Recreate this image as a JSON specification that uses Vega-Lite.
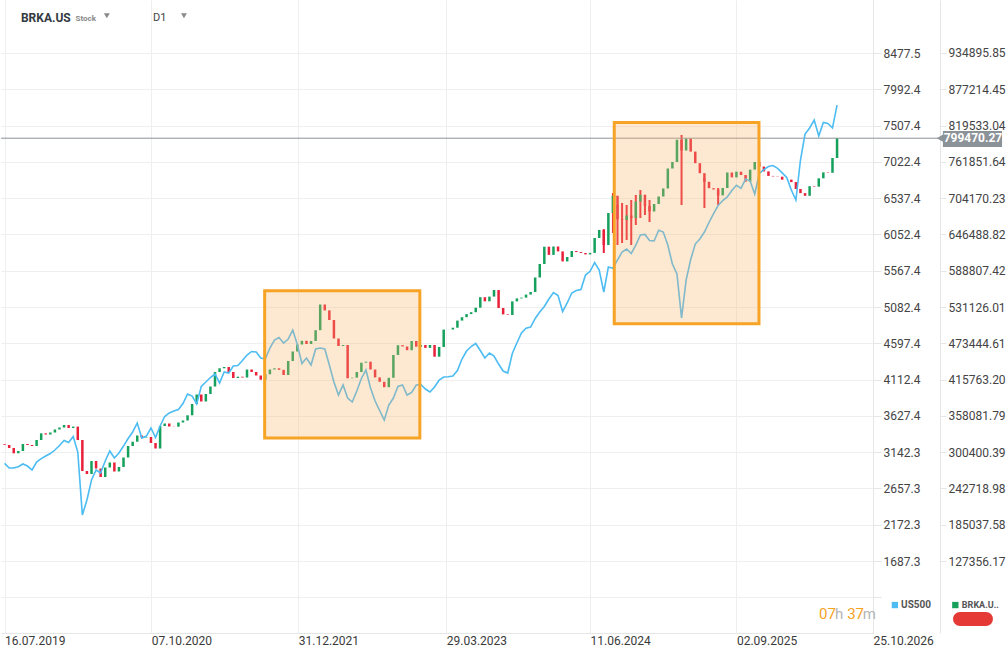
{
 "$schema": "https://vega.github.io/schema/vega-lite/v6.json",
 "width": 872,
 "height": 633,
 "padding": 0,
 "autosize": {"type": "pad"},
 "background": "white",
 "config": {"view": {"stroke": null}, "font": "Roboto"},
 "datasets": {
  "spx": [
{"d":"2019-07-16","s":2993},{"d":"2019-07-30","s":2930},{"d":"2019-08-13","s":2930},{"d":"2019-08-27","s":2948},{"d":"2019-09-10","s":2984},{"d":"2019-09-24","s":2957},{"d":"2019-10-08","s":2904},{"d":"2019-10-22","s":3011},{"d":"2019-11-05","s":3057},{"d":"2019-11-19","s":3091},{"d":"2019-12-03","s":3124},{"d":"2019-12-17","s":3171},{"d":"2019-12-31","s":3231},{"d":"2020-01-14","s":3298},{"d":"2020-01-28","s":3271},{"d":"2020-02-11","s":3351},{"d":"2020-02-25","s":3144},{"d":"2020-03-10","s":2302},{"d":"2020-03-24","s":2503},{"d":"2020-04-07","s":2770},{"d":"2020-04-21","s":2904},{"d":"2020-05-05","s":2864},{"d":"2020-05-19","s":3024},{"d":"2020-06-02","s":3158},{"d":"2020-06-16","s":3064},{"d":"2020-06-30","s":3131},{"d":"2020-07-14","s":3224},{"d":"2020-07-28","s":3325},{"d":"2020-08-11","s":3412},{"d":"2020-08-25","s":3532},{"d":"2020-09-08","s":3331},{"d":"2020-09-22","s":3358},{"d":"2020-10-06","s":3465},{"d":"2020-10-20","s":3338},{"d":"2020-11-03","s":3492},{"d":"2020-11-17","s":3619},{"d":"2020-12-01","s":3666},{"d":"2020-12-15","s":3692},{"d":"2020-12-29","s":3712},{"d":"2021-01-12","s":3793},{"d":"2021-01-26","s":3920},{"d":"2021-02-09","s":3893},{"d":"2021-02-23","s":3786},{"d":"2021-03-09","s":4020},{"d":"2021-03-23","s":4080},{"d":"2021-04-06","s":4140},{"d":"2021-04-20","s":4187},{"d":"2021-05-04","s":4067},{"d":"2021-05-18","s":4214},{"d":"2021-06-01","s":4200},{"d":"2021-06-15","s":4294},{"d":"2021-06-29","s":4300},{"d":"2021-07-13","s":4367},{"d":"2021-07-27","s":4441},{"d":"2021-08-10","s":4488},{"d":"2021-08-24","s":4481},{"d":"2021-09-07","s":4401},{"d":"2021-09-21","s":4387},{"d":"2021-10-05","s":4534},{"d":"2021-10-19","s":4641},{"d":"2021-11-02","s":4675},{"d":"2021-11-16","s":4601},{"d":"2021-11-30","s":4655},{"d":"2021-12-14","s":4775},{"d":"2021-12-28","s":4581},{"d":"2022-01-11","s":4327},{"d":"2022-01-25","s":4401},{"d":"2022-02-08","s":4307},{"d":"2022-02-22","s":4521},{"d":"2022-03-08","s":4534},{"d":"2022-03-22","s":4521},{"d":"2022-04-05","s":4307},{"d":"2022-04-19","s":4080},{"d":"2022-05-03","s":3906},{"d":"2022-05-17","s":4040},{"d":"2022-05-31","s":3866},{"d":"2022-06-14","s":3813},{"d":"2022-06-28","s":3960},{"d":"2022-07-12","s":4127},{"d":"2022-07-26","s":4240},{"d":"2022-08-09","s":4000},{"d":"2022-08-23","s":3826},{"d":"2022-09-06","s":3699},{"d":"2022-09-20","s":3572},{"d":"2022-10-04","s":3772},{"d":"2022-10-18","s":3866},{"d":"2022-11-01","s":4020},{"d":"2022-11-15","s":4040},{"d":"2022-11-29","s":3906},{"d":"2022-12-13","s":3940},{"d":"2022-12-27","s":4040},{"d":"2023-01-10","s":4047},{"d":"2023-01-24","s":3986},{"d":"2023-02-07","s":3946},{"d":"2023-02-21","s":4013},{"d":"2023-03-07","s":4107},{"d":"2023-03-21","s":4147},{"d":"2023-04-04","s":4151},{"d":"2023-04-18","s":4160},{"d":"2023-05-02","s":4234},{"d":"2023-05-16","s":4387},{"d":"2023-05-30","s":4494},{"d":"2023-06-13","s":4554},{"d":"2023-06-27","s":4595},{"d":"2023-07-11","s":4501},{"d":"2023-07-25","s":4401},{"d":"2023-08-08","s":4468},{"d":"2023-08-22","s":4427},{"d":"2023-09-05","s":4320},{"d":"2023-09-19","s":4227},{"d":"2023-10-03","s":4200},{"d":"2023-10-17","s":4461},{"d":"2023-10-31","s":4601},{"d":"2023-11-14","s":4735},{"d":"2023-11-28","s":4798},{"d":"2023-12-12","s":4815},{"d":"2023-12-26","s":4929},{"d":"2024-01-09","s":5016},{"d":"2024-01-23","s":5089},{"d":"2024-02-06","s":5189},{"d":"2024-02-20","s":5276},{"d":"2024-03-05","s":5236},{"d":"2024-03-19","s":5022},{"d":"2024-04-02","s":5136},{"d":"2024-04-16","s":5270},{"d":"2024-04-30","s":5303},{"d":"2024-05-14","s":5316},{"d":"2024-05-28","s":5510},{"d":"2024-06-11","s":5560},{"d":"2024-06-25","s":5677},{"d":"2024-07-09","s":5577},{"d":"2024-07-23","s":5283},{"d":"2024-08-06","s":5617},{"d":"2024-08-20","s":5600},{"d":"2024-09-03","s":5711},{"d":"2024-09-17","s":5818},{"d":"2024-10-01","s":5858},{"d":"2024-10-15","s":5798},{"d":"2024-10-29","s":5911},{"d":"2024-11-12","s":6045},{"d":"2024-11-26","s":6052},{"d":"2024-12-10","s":5971},{"d":"2024-12-24","s":5965},{"d":"2025-01-07","s":6108},{"d":"2025-01-21","s":6085},{"d":"2025-02-04","s":5911},{"d":"2025-02-18","s":5657},{"d":"2025-03-04","s":5524},{"d":"2025-03-18","s":4935},{"d":"2025-04-01","s":5443},{"d":"2025-04-15","s":5717},{"d":"2025-04-29","s":5924},{"d":"2025-05-13","s":5991},{"d":"2025-05-27","s":6085},{"d":"2025-06-10","s":6212},{"d":"2025-06-24","s":6332},{"d":"2025-07-08","s":6439},{"d":"2025-07-22","s":6506},{"d":"2025-08-05","s":6553},{"d":"2025-08-19","s":6640},{"d":"2025-09-02","s":6709},{"d":"2025-09-16","s":6669},{"d":"2025-09-30","s":6793},{"d":"2025-10-14","s":6767},{"d":"2025-10-28","s":6593},{"d":"2025-11-11","s":6867},{"d":"2025-11-25","s":6920},{"d":"2025-12-09","s":6960},{"d":"2025-12-23","s":6974},{"d":"2026-01-06","s":6936},{"d":"2026-01-20","s":6876},{"d":"2026-02-03","s":6813},{"d":"2026-02-17","s":6646},{"d":"2026-03-03","s":6513},{"d":"2026-03-17","s":7047},{"d":"2026-03-31","s":7395},{"d":"2026-04-14","s":7475},{"d":"2026-04-28","s":7582},{"d":"2026-05-12","s":7368},{"d":"2026-05-26","s":7549},{"d":"2026-06-09","s":7535},{"d":"2026-06-23","s":7475},{"d":"2026-07-07","s":7782}
  ],
  "brk": [
{"d":"2019-07-16","o":313000,"c":311761},{"d":"2019-07-30","o":311761,"c":306992},{"d":"2019-08-13","o":306992,"c":298567},{"d":"2019-08-27","o":298567,"c":302223},{"d":"2019-09-10","o":302223,"c":313351},{"d":"2019-09-24","o":313351,"c":311761},{"d":"2019-10-08","o":311761,"c":310171},{"d":"2019-10-22","o":310171,"c":319709},{"d":"2019-11-05","o":319709,"c":330360},{"d":"2019-11-19","o":330360,"c":328452},{"d":"2019-12-03","o":328452,"c":331631},{"d":"2019-12-17","o":331631,"c":336400},{"d":"2019-12-31","o":336400,"c":339579},{"d":"2020-01-14","o":339579,"c":343554},{"d":"2020-01-28","o":343554,"c":338785},{"d":"2020-02-11","o":338785,"c":341000},{"d":"2020-02-25","o":341000,"c":319709},{"d":"2020-03-10","o":319709,"c":270431},{"d":"2020-03-24","o":270431,"c":265662},{"d":"2020-04-07","o":265662,"c":286327},{"d":"2020-04-21","o":286327,"c":274405},{"d":"2020-05-05","o":274405,"c":260893},{"d":"2020-05-19","o":260893,"c":275994},{"d":"2020-06-02","o":275994,"c":283942},{"d":"2020-06-16","o":283942,"c":269636},{"d":"2020-06-30","o":269636,"c":276789},{"d":"2020-07-14","o":276789,"c":291890},{"d":"2020-07-28","o":291890,"c":310171},{"d":"2020-08-11","o":310171,"c":317007},{"d":"2020-08-25","o":317007,"c":326862},{"d":"2020-09-08","o":326862,"c":323683},{"d":"2020-09-22","o":323683,"c":324478},{"d":"2020-10-06","o":324478,"c":314940},{"d":"2020-10-20","o":314940,"c":306197},{"d":"2020-11-03","o":306197,"c":341964},{"d":"2020-11-17","o":341964,"c":345938},{"d":"2020-12-01","o":345938,"c":341169},{"d":"2020-12-15","o":341169,"c":340851},{"d":"2020-12-29","o":340851,"c":347528},{"d":"2021-01-12","o":347528,"c":350707},{"d":"2021-01-26","o":350707,"c":358973},{"d":"2021-02-09","o":358973,"c":376936},{"d":"2021-02-23","o":376936,"c":392037},{"d":"2021-03-09","o":392037,"c":380910},{"d":"2021-03-23","o":380910,"c":392832},{"d":"2021-04-06","o":392832,"c":404754},{"d":"2021-04-20","o":404754,"c":427804},{"d":"2021-05-04","o":427804,"c":433686},{"d":"2021-05-18","o":433686,"c":435752},{"d":"2021-06-01","o":435752,"c":427804},{"d":"2021-06-15","o":427804,"c":418266},{"d":"2021-06-29","o":418266,"c":420333},{"d":"2021-07-13","o":420333,"c":419000},{"d":"2021-07-27","o":419000,"c":431778},{"d":"2021-08-10","o":431778,"c":427804},{"d":"2021-08-24","o":427804,"c":422240},{"d":"2021-09-07","o":422240,"c":415564},{"d":"2021-09-21","o":415564,"c":424148},{"d":"2021-10-05","o":424148,"c":431778},{"d":"2021-10-19","o":431778,"c":433686},{"d":"2021-11-02","o":433686,"c":431301},{"d":"2021-11-16","o":431301,"c":423035},{"d":"2021-11-30","o":423035,"c":445290},{"d":"2021-12-14","o":445290,"c":460391},{"d":"2021-12-28","o":460391,"c":471519},{"d":"2022-01-11","o":471519,"c":477400},{"d":"2022-01-25","o":477400,"c":472314},{"d":"2022-02-08","o":472314,"c":477082},{"d":"2022-02-22","o":477082,"c":494250},{"d":"2022-03-08","o":494250,"c":535104},{"d":"2022-03-22","o":535104,"c":525725},{"d":"2022-04-05","o":525725,"c":510465},{"d":"2022-04-19","o":510465,"c":481056},{"d":"2022-05-03","o":481056,"c":469134},{"d":"2022-05-17","o":469134,"c":470724},{"d":"2022-05-31","o":470724,"c":417789},{"d":"2022-06-14","o":417789,"c":418743},{"d":"2022-06-28","o":418743,"c":427804},{"d":"2022-07-12","o":427804,"c":442587},{"d":"2022-07-26","o":442587,"c":444177},{"d":"2022-08-09","o":444177,"c":431778},{"d":"2022-08-23","o":431778,"c":419220},{"d":"2022-09-06","o":419220,"c":412226},{"d":"2022-09-20","o":412226,"c":403642},{"d":"2022-10-04","o":403642,"c":418584},{"d":"2022-10-18","o":418584,"c":454828},{"d":"2022-11-01","o":454828,"c":470406},{"d":"2022-11-15","o":470406,"c":468339},{"d":"2022-11-29","o":468339,"c":462458},{"d":"2022-12-13","o":462458,"c":477082},{"d":"2022-12-27","o":477082,"c":468022},{"d":"2023-01-10","o":468022,"c":470724},{"d":"2023-01-24","o":470724,"c":466114},{"d":"2023-02-07","o":466114,"c":470724},{"d":"2023-02-21","o":470724,"c":452125},{"d":"2023-03-07","o":452125,"c":467545},{"d":"2023-03-21","o":467545,"c":495204},{"d":"2023-04-04","o":495204,"c":495363},{"d":"2023-04-18","o":495363,"c":498225},{"d":"2023-05-02","o":498225,"c":509511},{"d":"2023-05-16","o":509511,"c":514916},{"d":"2023-05-30","o":514916,"c":519843},{"d":"2023-06-13","o":519843,"c":522864},{"d":"2023-06-27","o":522864,"c":530017},{"d":"2023-07-11","o":530017,"c":546708},{"d":"2023-07-25","o":546708,"c":540191},{"d":"2023-08-08","o":540191,"c":547662},{"d":"2023-08-22","o":547662,"c":558154},{"d":"2023-09-05","o":558154,"c":529540},{"d":"2023-09-19","o":529540,"c":519367},{"d":"2023-10-03","o":519367,"c":518413},{"d":"2023-10-17","o":518413,"c":540032},{"d":"2023-10-31","o":540032,"c":544801},{"d":"2023-11-14","o":544801,"c":546072},{"d":"2023-11-28","o":546072,"c":550841},{"d":"2023-12-12","o":550841,"c":554974},{"d":"2023-12-26","o":554974,"c":578024},{"d":"2024-01-09","o":578024,"c":599484},{"d":"2024-01-23","o":599484,"c":626985},{"d":"2024-02-06","o":626985,"c":613950},{"d":"2024-02-20","o":613950,"c":627302},{"d":"2024-03-05","o":627302,"c":619513},{"d":"2024-03-19","o":619513,"c":603617},{"d":"2024-04-02","o":603617,"c":610611},{"d":"2024-04-16","o":610611,"c":620149},{"d":"2024-04-30","o":620149,"c":618500},{"d":"2024-05-14","o":618500,"c":616970},{"d":"2024-05-28","o":616970,"c":614744},{"d":"2024-06-11","o":614744,"c":617129},{"d":"2024-06-25","o":617129,"c":640814},{"d":"2024-07-09","o":640814,"c":653531},{"d":"2024-07-23","o":653531,"c":629687},{"d":"2024-08-06","o":629687,"c":680555},{"d":"2024-08-20","o":680555,"c":708056},{"d":"2024-09-03","o":708056,"c":670540},{"d":"2024-09-17","o":670540,"c":669428},{"d":"2024-10-01","o":669428,"c":676581},{"d":"2024-10-15","o":676581,"c":672289},{"d":"2024-10-29","o":672289,"c":698836},{"d":"2024-11-12","o":698836,"c":709645},{"d":"2024-11-26","o":709645,"c":691682},{"d":"2024-12-10","o":691682,"c":682940},{"d":"2024-12-24","o":682940,"c":694862},{"d":"2025-01-07","o":694862,"c":706784},{"d":"2025-01-21","o":706784,"c":719501},{"d":"2025-02-04","o":719501,"c":751294},{"d":"2025-02-18","o":751294,"c":761626},{"d":"2025-03-04","o":761626,"c":797075},{"d":"2025-03-18","o":797075,"c":779907},{"d":"2025-04-01","o":779907,"c":798982},{"d":"2025-04-15","o":798982,"c":778158},{"d":"2025-04-29","o":778158,"c":759719},{"d":"2025-05-13","o":759719,"c":743822},{"d":"2025-05-27","o":743822,"c":730152},{"d":"2025-06-10","o":730152,"c":719978},{"d":"2025-06-24","o":719978,"c":717911},{"d":"2025-07-08","o":717911,"c":708533},{"d":"2025-07-22","o":708533,"c":720296},{"d":"2025-08-05","o":720296,"c":744935},{"d":"2025-08-19","o":744935,"c":737146},{"d":"2025-09-02","o":737146,"c":746207},{"d":"2025-09-16","o":746207,"c":740961},{"d":"2025-09-30","o":740961,"c":730310},{"d":"2025-10-14","o":730310,"c":749545},{"d":"2025-10-28","o":749545,"c":761626},{"d":"2025-11-11","o":761626,"c":754314},{"d":"2025-11-25","o":754314,"c":746684},{"d":"2025-12-09","o":746684,"c":739530},{"d":"2025-12-23","o":739530,"c":738736},{"d":"2026-01-06","o":738736,"c":738259},{"d":"2026-01-20","o":738259,"c":733490},{"d":"2026-02-03","o":733490,"c":733649},{"d":"2026-02-17","o":733649,"c":729675},{"d":"2026-03-03","o":729675,"c":718706},{"d":"2026-03-17","o":718706,"c":712189},{"d":"2026-03-31","o":712189,"c":707897},{"d":"2026-04-14","o":707897,"c":723157},{"d":"2026-04-28","o":723157,"c":722362},{"d":"2026-05-12","o":722362,"c":735715},{"d":"2026-05-26","o":735715,"c":745094},{"d":"2026-06-09","o":745094,"c":744458},{"d":"2026-06-23","o":744458,"c":767985},{"d":"2026-07-07","o":767985,"c":799470.27}
  ]
 },
 "encoding": {
  "x": {
   "field": "d", "type": "temporal",
   "scale": {"type": "utc", "domain": [{"year": 2019, "month": 7, "date": 5, "utc": true}, {"year": 2026, "month": 10, "date": 25, "utc": true}]},
   "axis": {
    "title": null,
    "values": [{"year": 2019, "month": 7, "date": 16, "utc": true}, {"year": 2020, "month": 10, "date": 7, "utc": true}, {"year": 2021, "month": 12, "date": 31, "utc": true}, {"year": 2023, "month": 3, "date": 29, "utc": true}, {"year": 2024, "month": 6, "date": 11, "utc": true}, {"year": 2025, "month": 9, "date": 2, "utc": true}, {"year": 2026, "month": 10, "date": 25, "utc": true}],
    "labelExpr": "utcFormat(datum.value, '%d.%m.%Y')",
    "labelAlign": "left", "labelFlush": false, "labelOverlap": false, "labelPadding": 2, "labelDx": 1,
    "grid": true, "gridColor": "#efefef", "domain": true, "domainColor": "#e6e6e6", "ticks": false,
    "labelFont": "Roboto", "labelFontSize": 12, "labelColor": "#3a3a3a"
   }
  }
 },
 "resolve": {"scale": {"y": "independent"}},
 "layer": [
  {
   "encoding": {
    "y": {"field": "o", "type": "quantitative", "scale": {"domain": [12910, 1019146]},
     "axis": {"orient": "right", "offset": 67, "title": null, "values": [127356.17, 185037.58, 242718.98, 300400.39, 358081.79, 415763.2, 473444.61, 531126.01, 588807.42, 646488.82, 704170.23, 761851.64, 819533.04, 877214.45, 934895.85], "format": ".2f", "grid": false, "domain": true, "domainColor": "#e6e6e6", "ticks": true, "tickColor": "#e6e6e6", "tickSize": 6, "labelPadding": 2, "labelFont": "Roboto", "labelFontSize": 12, "labelColor": "#444444", "labelBaseline": "middle"}}
   },
   "layer": [
    {
     "data": {"values": [
      {"d":"2024-07-23","h":655000,"l":617000},{"d":"2024-08-20","h":712348,"l":648762},{"d":"2024-09-03","h":693272,"l":629687},{"d":"2024-09-17","h":696451,"l":632866},{"d":"2024-10-01","h":693272,"l":637635},{"d":"2024-10-15","h":701220,"l":629687},{"d":"2024-10-29","h":709168,"l":661479},{"d":"2024-11-12","h":717116,"l":672607},{"d":"2024-11-26","h":707579,"l":677376},{"d":"2024-12-10","h":701220,"l":666248},{"d":"2025-03-18","h":804546,"l":693272},{"d":"2025-05-27","h":736192,"l":688503},{"d":"2025-07-08","h":720296,"l":693272}
     ]},
     "mark": {"type": "rule", "strokeWidth": 2, "color": "#e8203a"},
     "encoding": {
      "y": {"field": "h", "type": "quantitative", "scale": {"domain": [12910, 1019146]},
       "axis": {"orient": "right", "offset": 67, "title": null, "values": [127356.17, 185037.58, 242718.98, 300400.39, 358081.79, 415763.2, 473444.61, 531126.01, 588807.42, 646488.82, 704170.23, 761851.64, 819533.04, 877214.45, 934895.85], "format": ".2f", "grid": false, "domain": true, "domainColor": "#e6e6e6", "ticks": true, "tickColor": "#e6e6e6", "tickSize": 6, "labelPadding": 2, "labelFont": "Roboto", "labelFontSize": 12, "labelColor": "#444444", "labelBaseline": "middle"}},
      "y2": {"field": "l"}
     }
    },
    {
     "data": {"name": "brk"},
     "mark": {"type": "rule", "strokeWidth": 2.5},
     "encoding": {
      "y2": {"field": "c"},
      "color": {"condition": {"test": "datum.c >= datum.o", "value": "#15a05c"}, "value": "#e8203a"}
     }
    },
    {
     "data": {"values": [{"d": "2019-07-05", "d2": "2027-05-12", "o": 799470.27}], "format": {"parse": {"d": "date", "d2": "date"}}},
     "mark": {"type": "rule", "color": "#8b9298", "strokeWidth": 1, "clip": false},
     "encoding": {"x2": {"field": "d2"}}
    },
    {
     "data": {"values": [{"d": "2027-05-27", "d2": "2027-11-24", "o": 810904, "c": 785470}], "format": {"parse": {"d": "date", "d2": "date"}}},
     "mark": {"type": "rect", "color": "#8b9298", "clip": false},
     "encoding": {"x2": {"field": "d2"}, "y2": {"field": "c"}}
    },
    {
     "data": {"values": [{"d": "2027-05-27", "o": 799470.27}]},
     "mark": {"type": "point", "shape": "triangle-left", "filled": true, "color": "#8b9298", "size": 200, "opacity": 1, "clip": false}
    },
    {
     "data": {"values": [{"d": "2027-08-27", "o": 799470.27, "t": "799470.27"}]},
     "mark": {"type": "text", "color": "#ffffff", "fontWeight": "bold", "fontSize": 12, "align": "center", "baseline": "middle", "clip": false},
     "encoding": {"text": {"field": "t"}}
    }
   ]
  },
  {
   "encoding": {
    "y": {"field": "s", "type": "quantitative", "scale": {"domain": [725.3, 9185.9]},
     "axis": {"orient": "right", "offset": 0, "title": null, "values": [1202.3, 1687.3, 2172.3, 2657.3, 3142.3, 3627.4, 4112.4, 4597.4, 5082.4, 5567.4, 6052.4, 6537.4, 7022.4, 7507.4, 7992.4, 8477.5], "labelExpr": "datum.value < 1500 ? '' : format(datum.value, '.1f')", "grid": true, "gridColor": "#efefef", "domain": true, "domainColor": "#e6e6e6", "ticks": true, "tickColor": "#e6e6e6", "tickSize": 8, "labelPadding": 2, "labelFont": "Roboto", "labelFontSize": 12, "labelColor": "#444444", "labelBaseline": "middle"}}
   },
   "layer": [
    {
     "data": {"name": "spx"},
     "mark": {"type": "line", "color": "#4cbcf2", "strokeWidth": 1.6}
    },
    {
     "data": {"values": [{"d": "2021-09-19", "d2": "2023-01-07", "s": 5299, "s2": 3331}, {"d": "2024-08-24", "d2": "2025-11-10", "s": 7548.5, "s2": 4857.8}], "format": {"parse": {"d": "date", "d2": "date"}}},
     "mark": {"type": "rect", "fill": "#f8b26a", "fillOpacity": 0.3, "stroke": "#f7a325", "strokeWidth": 3, "strokeOpacity": 1},
     "encoding": {"x2": {"field": "d2"}, "y2": {"field": "s2"}}
    },
    {
     "data": {"values": [{"d": "2019-09-04", "s": 8945, "t": "BRKA.US"}]},
     "mark": {"type": "text", "align": "left", "baseline": "middle", "fontSize": 12, "fontWeight": "bold", "color": "#333a40"},
     "encoding": {"text": {"field": "t"}}
    },
    {
     "data": {"values": [{"d": "2020-02-18", "s": 8935, "t": "Stock"}]},
     "mark": {"type": "text", "align": "left", "baseline": "middle", "fontSize": 8, "fontWeight": "bold", "color": "#8a8a8a"},
     "encoding": {"text": {"field": "t"}}
    },
    {
     "data": {"values": [{"d": "2020-10-12", "s": 8945, "t": "D1"}]},
     "mark": {"type": "text", "align": "left", "baseline": "middle", "fontSize": 11, "color": "#444444"},
     "encoding": {"text": {"field": "t"}}
    },
    {
     "data": {"values": [{"d": "2020-05-24", "s": 8975}, {"d": "2021-01-15", "s": 8975}]},
     "mark": {"type": "point", "shape": "triangle-down", "filled": true, "color": "#8a8a8a", "size": 35, "opacity": 1}
    },
    {
     "data": {"values": [{"d": "2026-05-13", "s": 985, "t": "07"}, {"d": "2026-08-07", "s": 985, "t": "37"}]},
     "mark": {"type": "text", "align": "left", "baseline": "middle", "fontSize": 15, "color": "#f5a31f"},
     "encoding": {"text": {"field": "t"}}
    },
    {
     "data": {"values": [{"d": "2026-07-01", "s": 985, "t": "h"}, {"d": "2026-09-24", "s": 985, "t": "m"}]},
     "mark": {"type": "text", "align": "left", "baseline": "middle", "fontSize": 15, "color": "#b5b5b5"},
     "encoding": {"text": {"field": "t"}}
    },
    {
     "data": {"values": [{"d": "2026-12-31", "s": 1099}]},
     "mark": {"type": "point", "shape": "square", "filled": true, "color": "#4cbcf2", "size": 40, "opacity": 1, "clip": false}
    },
    {
     "data": {"values": [{"d": "2027-07-04", "s": 1099}]},
     "mark": {"type": "point", "shape": "square", "filled": true, "color": "#15a05c", "size": 40, "opacity": 1, "clip": false}
    },
    {
     "data": {"values": [{"d": "2027-01-19", "s": 1099, "t": "US500"}]},
     "mark": {"type": "text", "align": "left", "baseline": "middle", "fontSize": 10, "fontWeight": "bold", "color": "#555555", "clip": false},
     "encoding": {"text": {"field": "t"}}
    },
    {
     "data": {"values": [{"d": "2027-07-24", "s": 1099, "t": "BRKA.U.."}]},
     "mark": {"type": "text", "align": "left", "baseline": "middle", "fontSize": 9, "fontWeight": "bold", "color": "#555555", "clip": false},
     "encoding": {"text": {"field": "t"}}
    },
    {
     "data": {"values": [{"d": "2027-06-27", "d2": "2027-10-27", "s": 1005.6, "s2": 818.5}], "format": {"parse": {"d": "date", "d2": "date"}}},
     "mark": {"type": "rect", "color": "#e53935", "cornerRadius": 7, "clip": false},
     "encoding": {"x2": {"field": "d2"}, "y2": {"field": "s2"}}
    }
   ]
  }
 ]
}
